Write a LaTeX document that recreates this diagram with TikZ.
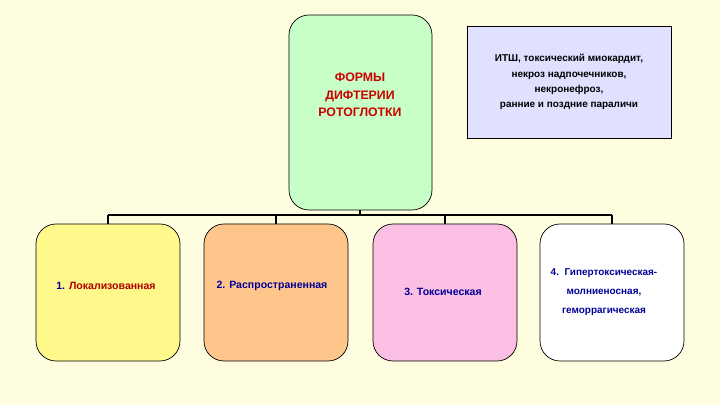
\documentclass[tikz,border=0pt]{standalone}
\usepackage{fontspec}
\setmainfont{Liberation Sans}
\begin{document}
\begin{tikzpicture}[x=0.03cm,y=-0.03cm,
  rbox/.style={draw=black,rounded corners=0.6cm,line width=0.6pt},
  lbl/.style={align=center,font=\bfseries\fontsize{9}{13}\selectfont,text=blue!60!black},
  wire/.style={line width=1.6pt}]
\fill[yellow!12!white] (0,0) rectangle (720,405);
\useasboundingbox (0,0) rectangle (720,405);
\path[rbox,fill=green!22!white] (289,15) rectangle (432,210);
\node[lbl,text=red!80!black,font=\bfseries\fontsize{10.5}{15}\selectfont] (top) at (360,95) {ФОРМЫ\\ДИФТЕРИИ\\РОТОГЛОТКИ};
\path[draw,fill=blue!12!white,line width=0.6pt] (467,26) rectangle (671,138);
\node[lbl,text=black,font=\bfseries\fontsize{8.5}{13}\selectfont] (side) at (569,82) {ИТШ, токсический миокардит,\\некроз надпочечников,\\некронефроз,\\ранние и поздние параличи};
\coordinate (t) at (360,210);
\coordinate (b) at (360,215);
\draw[wire] (t) -- (b) (108,215) -- (612,215);
\foreach \x/\c in {36/yellow!45!white,204/orange!45!white,373/magenta!25!white,540/white}{
  \path[rbox,fill=\c] (\x,224) rectangle (\x+144,361);
  \draw[wire] (\x+72,215) -- (\x+72,224);
}
\node[lbl] (b1) at (106,286) {1. \textcolor{red!70!black}{Локализованная}};
\node[lbl] (b2) at (272,286) {2. Распространенная};
\node[lbl] (b3) at (443,292) {3. Токсическая};
\node[lbl,font=\bfseries\fontsize{8.5}{16}\selectfont] (b4) at (604,292) {4.\ \ Гипертоксическая-\\молниеносная,\\геморрагическая};
\end{tikzpicture}
\end{document}
